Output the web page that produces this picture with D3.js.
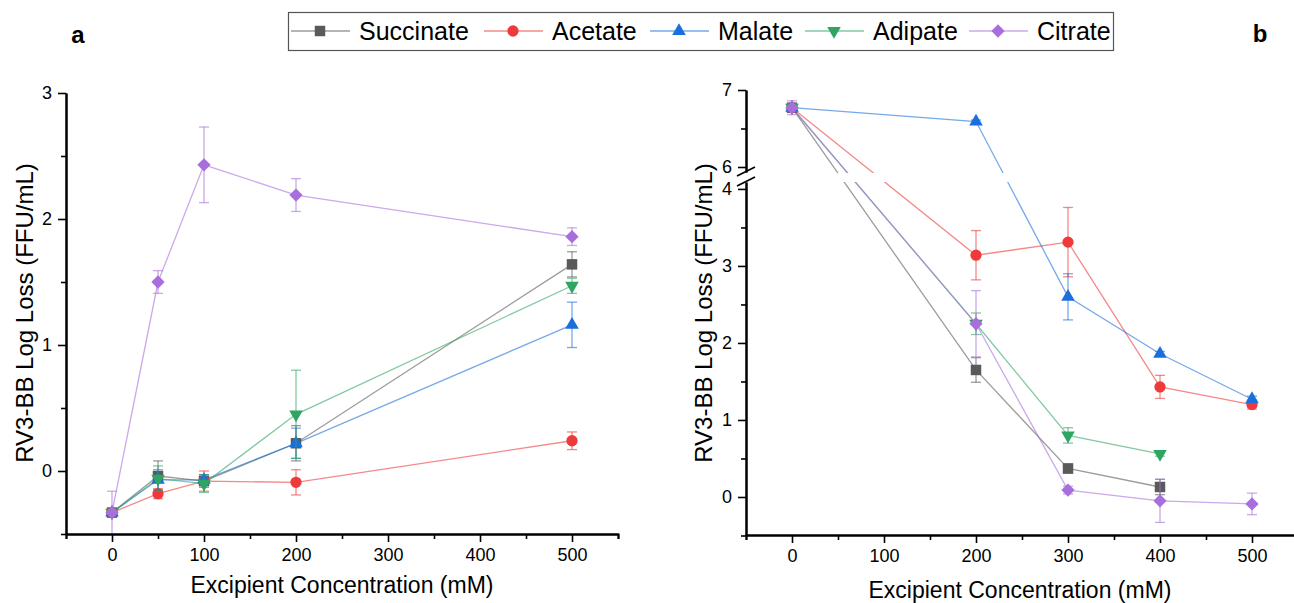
<!DOCTYPE html>
<html>
<head>
<meta charset="utf-8">
<script src="https://cdn.jsdelivr.net/npm/d3@7"></script>
<style>
  body { margin: 0; background: #fff; }
  svg { font-family: Arial, "Liberation Sans", sans-serif; }
</style>
</head>
<body>
<div id="chart"></div>
<script>
// Data
const seriesNames = ["Succinate", "Acetate", "Malate", "Adipate", "Citrate"];
const seriesColors = ["#5a5a5a", "#ee3a3a", "#1a6fdc", "#2ea563", "#a86fdc"];
const seriesShapes = ["square", "circle", "triangle", "triangleDown", "diamond"];

// Panel a
const concA = [0, 50, 100, 200, 500];
const succinateA = [-0.33, -0.04, -0.08, 0.22, 1.64];
const succinateAErr = [0.03, 0.12, 0.05, 0.14, 0.10];
const acetateA = [-0.33, -0.18, -0.08, -0.09, 0.24];
const acetateAErr = [0.02, 0.04, 0.08, 0.10, 0.07];
const malateA = [-0.33, -0.07, -0.07, 0.22, 1.16];
const malateAErr = [0.02, 0.08, 0.04, 0.12, 0.18];
const adipateA = [-0.33, -0.06, -0.10, 0.45, 1.47];
const adipateAErr = [0.02, 0.10, 0.07, 0.35, 0.06];
const citrateA = [-0.33, 1.50, 2.43, 2.19, 1.86];
const citrateAErr = [0.17, 0.09, 0.30, 0.13, 0.07];

// Panel b
const concB = [0, 200, 300, 400, 500];
const succinateB = [6.77, 1.65, 0.37, 0.13, null];
const succinateBErr = [0.05, 0.16, 0.06, 0.10, null];
const acetateB = [6.77, 3.14, 3.31, 1.43, 1.20];
const acetateBErr = [0.05, 0.32, 0.45, 0.15, 0.06];
const malateB = [6.77, 6.59, 2.60, 1.86, 1.27];
const malateBErr = [0.05, 0.02, 0.30, 0.03, 0.04];
const adipateB = [6.77, 2.25, 0.80, 0.56, null];
const adipateBErr = [0.05, 0.14, 0.10, 0.03, null];
const citrateB = [6.77, 2.25, 0.09, -0.05, -0.09];
const citrateBErr = [0.09, 0.43, 0.05, 0.28, 0.14];

const xTicks = [0, 100, 200, 300, 400, 500];
const xMinorTicks = [-50, 50, 150, 250, 350, 450, 550];
const yTicksA = [0, 1, 2, 3];
const yTicksBLow = [0, 1, 2, 3, 4];
const yTicksBHigh = [6, 7];

const valuesA = [succinateA, acetateA, malateA, adipateA, citrateA];
const errsA = [succinateAErr, acetateAErr, malateAErr, adipateAErr, citrateAErr];
const valuesB = [succinateB, acetateB, malateB, adipateB, citrateB];
const errsB = [succinateBErr, acetateBErr, malateBErr, adipateBErr, citrateBErr];

const W = 1294, H = 603;
const intFormat = d3.format("d");
const svg = d3.select("#chart").append("svg")
  .attr("width", W).attr("height", H);

// marker drawing
const markerPath = shape => {
  if (shape === "square") return d3.symbol(d3.symbolSquare, 110)();
  if (shape === "circle") return d3.symbol(d3.symbolCircle, 100)();
  if (shape === "diamond") return d3.symbol(d3.symbolSquare, 88)();
  return d3.symbol(d3.symbolTriangle, 80)();
};
const markerRotate = shape => shape === "diamond" ? 45 : (shape === "triangleDown" ? 180 : 0);

const drawMarker = (g, x, y, i) => {
  g.append("path")
    .attr("d", markerPath(seriesShapes[i]))
    .attr("transform", `translate(${x},${y}) rotate(${markerRotate(seriesShapes[i])})`)
    .attr("fill", seriesColors[i]);
};

const styleAxis = g => {
  g.select(".domain").attr("stroke", "#000").attr("stroke-width", 2);
  g.selectAll(".tick line").attr("stroke", "#000").attr("stroke-width", 1.6);
  g.selectAll(".tick text").attr("fill", "#000").style("font-size", "18px")
    .style("font-family", "Arial, 'Liberation Sans', sans-serif");
};

// draws lines for one panel, returns a function drawing error bars and markers
const drawSeries = (g, conc, values, errs, x, y) => {
  values.forEach((vals, i) => {
    const pts = conc.map((c, k) => ({ c, v: vals[k], e: errs[i][k] })).filter(p => p.v !== null);
    g.append("path")
      .datum(pts)
      .attr("fill", "none")
      .attr("stroke", seriesColors[i])
      .attr("stroke-opacity", 0.6)
      .attr("stroke-width", 1.3)
      .attr("d", d3.line().x(p => x(p.c)).y(p => y(p.v)));
  });
  return () => {
    values.forEach((vals, i) => {
      const pts = conc.map((c, k) => ({ c, v: vals[k], e: errs[i][k] })).filter(p => p.v !== null);
      pts.forEach(p => {
        const eg = g.append("g").attr("stroke", seriesColors[i]).attr("stroke-opacity", 0.6).attr("stroke-width", 1.3);
        const top = y(p.v + p.e), bot = Math.min(y(p.v - p.e), y.range()[0]);
        eg.append("line").attr("x1", x(p.c)).attr("x2", x(p.c)).attr("y1", top).attr("y2", bot);
        eg.append("line").attr("x1", x(p.c) - 5).attr("x2", x(p.c) + 5).attr("y1", top).attr("y2", top);
        if (y(p.v - p.e) < y.range()[0])
          eg.append("line").attr("x1", x(p.c) - 5).attr("x2", x(p.c) + 5).attr("y1", bot).attr("y2", bot);
      });
      pts.forEach(p => drawMarker(g, x(p.c), y(p.v), i));
    });
  };
};

/************************************
 * Panel a
 ************************************/
const xA = d3.scaleLinear().domain([-50, 550]).range([66, 618]);
const yA = d3.scaleLinear().domain([-0.5, 3]).range([534, 93]);

const gA = svg.append("g");
const finishA = drawSeries(gA, concA, valuesA, errsA, xA, yA);
finishA();

gA.append("g").attr("transform", "translate(0,534)")
  .call(d3.axisBottom(xA).tickValues(xMinorTicks).tickSize(5).tickFormat(""))
  .call(styleAxis);
gA.append("g").attr("transform", "translate(0,534)")
  .call(d3.axisBottom(xA).tickValues(xTicks).tickSize(8).tickPadding(6).tickSizeOuter(0))
  .call(styleAxis);
gA.append("g").attr("transform", "translate(66,0)")
  .call(d3.axisLeft(yA).tickValues([-0.5, 0.5, 1.5, 2.5]).tickSize(5).tickFormat("").tickSizeOuter(0))
  .call(styleAxis);
gA.append("g").attr("transform", "translate(66,0)")
  .call(d3.axisLeft(yA).tickValues(yTicksA).tickSize(8).tickPadding(6).tickSizeOuter(0).tickFormat(intFormat))
  .call(styleAxis);

svg.append("text").attr("x", 342).attr("y", 593).attr("text-anchor", "middle")
  .style("font-size", "23px").text("Excipient Concentration (mM)");
svg.append("text").attr("transform", "translate(33,313) rotate(-90)").attr("text-anchor", "middle")
  .style("font-size", "24px").text("RV3-BB Log Loss (FFU/mL)");
svg.append("text").attr("x", 78).attr("y", 43).attr("text-anchor", "middle")
  .style("font-size", "24px").style("font-weight", "bold").text("a");

/************************************
 * Panel b (broken y axis)
 ************************************/
const xB = d3.scaleLinear().domain([-50, 550]).range([746, 1298]);
const yB = d3.scaleLinear().domain([-0.5, 4, 6, 7]).range([535.5, 189, 167, 90]);
const yBLow = d3.scaleLinear().domain([-0.5, 4.09]).range([535.5, 182]);
const yBHigh = d3.scaleLinear().domain([5.935, 7]).range([172, 90]);

const gB = svg.append("g");
const finishB = drawSeries(gB, concB, valuesB, errsB, xB, yB);
// white gap where the lines cross the break
gB.append("rect").attr("x", 748).attr("y", 173).attr("width", W - 748).attr("height", 9).attr("fill", "#fff");
finishB();

gB.append("g").attr("transform", "translate(0,535)")
  .call(d3.axisBottom(xB).tickValues(xMinorTicks).tickSize(5).tickFormat(""))
  .call(styleAxis);
gB.append("g").attr("transform", "translate(0,535)")
  .call(d3.axisBottom(xB).tickValues(xTicks).tickSize(8).tickPadding(6).tickSizeOuter(0))
  .call(styleAxis);
gB.append("g").attr("transform", "translate(746,0)")
  .call(d3.axisLeft(yBLow).tickValues([-0.5, 0.5, 1.5, 2.5, 3.5]).tickSize(5).tickFormat("").tickSizeOuter(0))
  .call(styleAxis);
gB.append("g").attr("transform", "translate(746,0)")
  .call(d3.axisLeft(yBLow).tickValues(yTicksBLow).tickSize(8).tickPadding(6).tickSizeOuter(0).tickFormat(intFormat))
  .call(styleAxis);
gB.append("g").attr("transform", "translate(746,0)")
  .call(d3.axisLeft(yBHigh).tickValues([6.5]).tickSize(5).tickFormat("").tickSizeOuter(0))
  .call(styleAxis);
gB.append("g").attr("transform", "translate(746,0)")
  .call(d3.axisLeft(yBHigh).tickValues(yTicksBHigh).tickSize(8).tickPadding(6).tickSizeOuter(0).tickFormat(intFormat))
  .call(styleAxis);
// break marks
[[176, 167], [186, 177]].forEach(([y1, y2]) => {
  svg.append("line").attr("x1", 737).attr("y1", y1).attr("x2", 755).attr("y2", y2)
    .attr("stroke", "#000").attr("stroke-width", 1.6);
});

svg.append("text").attr("x", 1020).attr("y", 598).attr("text-anchor", "middle")
  .style("font-size", "23px").text("Excipient Concentration (mM)");
svg.append("text").attr("transform", "translate(712,313) rotate(-90)").attr("text-anchor", "middle")
  .style("font-size", "24px").text("RV3-BB Log Loss (FFU/mL)");
svg.append("text").attr("x", 1260).attr("y", 42).attr("text-anchor", "middle")
  .style("font-size", "24px").style("font-weight", "bold").text("b");

/************************************
 * Legend
 ************************************/
const legend = svg.append("g");
legend.append("rect").attr("x", 288.5).attr("y", 12.5).attr("width", 825).attr("height", 38)
  .attr("fill", "#fff").attr("stroke", "#555").attr("stroke-width", 1.2);
const legendX = [291, 484, 650, 805, 969];
seriesNames.forEach((name, i) => {
  const lx = legendX[i];
  legend.append("line").attr("x1", lx).attr("x2", lx + 59).attr("y1", 31).attr("y2", 31)
    .attr("stroke", seriesColors[i]).attr("stroke-opacity", 0.6).attr("stroke-width", 1.5);
  drawMarker(legend, lx + 29, 31, i);
  legend.append("text").attr("x", lx + 68).attr("y", 40).style("font-size", "25px").text(name);
});
</script>
</body>
</html>
